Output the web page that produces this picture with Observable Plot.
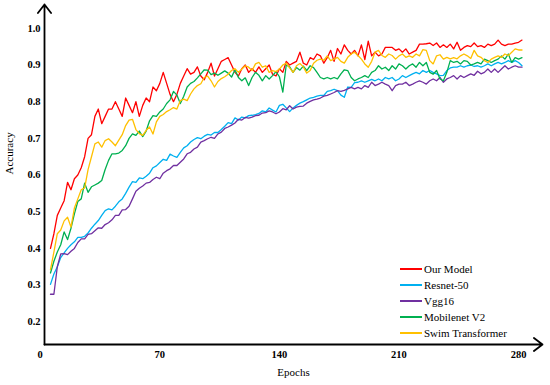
<!DOCTYPE html>
<html><head><meta charset="utf-8">
<script src="https://cdn.jsdelivr.net/npm/d3@7"></script>
<script src="https://cdn.jsdelivr.net/npm/@observablehq/plot@0.6"></script>
<style>
html,body{margin:0;padding:0;background:#fff;}
#wrap{position:relative;width:550px;height:385px;}
#legend{position:absolute;left:400px;top:261px;font:11px "Liberation Serif",serif;color:#000;}
.row{height:16px;display:flex;align-items:center;white-space:nowrap;}
.sw{display:inline-block;width:22px;height:2px;margin-right:2px;}
</style></head><body><div id="wrap"><div id="legend"></div></div>
<script>
const names = ["Our Model", "Resnet-50", "Vgg16", "Mobilenet V2", "Swim Transformer"];
const colors = ["#ff0000", "#00b0f0", "#7030a0", "#00b050", "#ffc000"];
const epochStart = 6, epochStep = 2;
const ourModel = [
0.40,0.44,0.49,0.51,0.53,0.58,0.56,0.59,0.60,0.62,
0.65,0.70,0.71,0.76,0.78,0.74,0.76,0.78,0.78,0.80,
0.78,0.76,0.81,0.79,0.77,0.80,0.76,0.79,0.81,0.80,
0.84,0.83,0.85,0.88,0.85,0.82,0.80,0.82,0.85,0.87,
0.89,0.875,0.88,0.895,0.87,0.86,0.88,0.905,0.87,0.89,
0.91,0.915,0.92,0.90,0.88,0.87,0.89,0.90,0.88,0.89,
0.88,0.895,0.88,0.89,0.90,0.875,0.87,0.89,0.88,0.91,
0.90,0.905,0.91,0.935,0.905,0.90,0.92,0.915,0.93,0.925,
0.905,0.92,0.94,0.91,0.945,0.93,0.955,0.94,0.93,0.94,
0.925,0.955,0.915,0.965,0.925,0.935,0.925,0.93,0.948,0.948,
0.948,0.94,0.944,0.935,0.944,0.93,0.935,0.94,0.957,0.957,
0.958,0.96,0.953,0.96,0.948,0.955,0.948,0.957,0.944,0.962,
0.94,0.948,0.953,0.95,0.96,0.95,0.953,0.948,0.957,0.953,
0.957,0.968,0.957,0.953,0.957,0.957,0.96,0.962,0.968];
const resnet50 = [
0.302,0.33,0.35,0.375,0.388,0.40,0.41,0.418,0.43,0.43,
0.433,0.442,0.455,0.466,0.476,0.49,0.503,0.508,0.505,0.515,
0.527,0.535,0.55,0.567,0.582,0.58,0.592,0.59,0.597,0.605,
0.62,0.625,0.634,0.643,0.64,0.657,0.652,0.648,0.662,0.674,
0.68,0.69,0.697,0.702,0.699,0.706,0.711,0.709,0.716,0.716,
0.724,0.733,0.743,0.74,0.756,0.75,0.758,0.756,0.762,0.763,
0.765,0.768,0.775,0.772,0.783,0.777,0.772,0.79,0.793,0.783,
0.773,0.783,0.79,0.796,0.80,0.805,0.81,0.812,0.815,0.817,
0.817,0.828,0.83,0.834,0.83,0.818,0.812,0.84,0.839,0.852,
0.853,0.857,0.853,0.857,0.861,0.857,0.862,0.857,0.866,0.862,
0.866,0.857,0.862,0.871,0.866,0.871,0.876,0.88,0.876,0.885,
0.88,0.885,0.88,0.876,0.871,0.872,0.885,0.892,0.894,0.894,
0.898,0.894,0.898,0.9,0.896,0.898,0.894,0.898,0.903,0.898,
0.903,0.907,0.903,0.907,0.912,0.907,0.912,0.907,0.898];
const vgg16 = [
0.275,0.275,0.35,0.385,0.386,0.383,0.392,0.40,0.416,0.426,
0.426,0.438,0.44,0.448,0.456,0.455,0.465,0.47,0.478,0.49,
0.49,0.505,0.506,0.515,0.535,0.556,0.564,0.57,0.578,0.58,
0.588,0.594,0.59,0.605,0.612,0.617,0.626,0.626,0.635,0.644,
0.658,0.662,0.671,0.676,0.69,0.694,0.699,0.703,0.70,0.712,
0.717,0.727,0.731,0.736,0.742,0.752,0.75,0.757,0.755,0.758,
0.762,0.763,0.769,0.77,0.775,0.772,0.767,0.772,0.781,0.778,
0.789,0.78,0.785,0.787,0.788,0.796,0.801,0.805,0.807,0.81,
0.815,0.817,0.821,0.825,0.83,0.828,0.831,0.835,0.839,0.835,
0.839,0.835,0.844,0.839,0.853,0.844,0.848,0.853,0.848,0.844,
0.83,0.844,0.848,0.848,0.853,0.844,0.848,0.853,0.857,0.853,
0.848,0.857,0.862,0.857,0.866,0.853,0.862,0.866,0.871,0.862,
0.871,0.866,0.871,0.876,0.872,0.883,0.876,0.88,0.889,0.88,
0.889,0.88,0.889,0.898,0.889,0.894,0.898,0.894,0.894];
const mobilenetV2 = [
0.333,0.365,0.39,0.41,0.445,0.424,0.455,0.494,0.528,0.535,
0.578,0.553,0.568,0.573,0.578,0.585,0.615,0.64,0.658,0.658,
0.66,0.667,0.68,0.70,0.712,0.708,0.72,0.705,0.72,0.748,
0.762,0.76,0.772,0.78,0.795,0.805,0.828,0.818,0.795,0.815,
0.84,0.85,0.855,0.865,0.876,0.887,0.886,0.874,0.878,0.872,
0.878,0.884,0.878,0.867,0.887,0.866,0.857,0.865,0.844,0.866,
0.88,0.872,0.857,0.871,0.862,0.871,0.882,0.868,0.826,0.90,
0.895,0.88,0.893,0.886,0.897,0.885,0.898,0.893,0.88,0.866,
0.862,0.866,0.862,0.866,0.862,0.876,0.887,0.885,0.866,0.857,
0.862,0.866,0.871,0.866,0.88,0.885,0.898,0.889,0.894,0.885,
0.898,0.889,0.903,0.898,0.889,0.898,0.903,0.894,0.907,0.898,
0.907,0.88,0.875,0.885,0.862,0.857,0.88,0.912,0.907,0.91,
0.903,0.912,0.91,0.9,0.903,0.907,0.903,0.916,0.912,0.907,
0.912,0.916,0.925,0.916,0.93,0.907,0.92,0.916,0.92];
const swimTransformer = [
0.342,0.39,0.44,0.45,0.475,0.485,0.458,0.51,0.535,0.56,
0.565,0.615,0.65,0.685,0.69,0.676,0.694,0.699,0.69,0.68,
0.695,0.71,0.735,0.75,0.752,0.724,0.713,0.708,0.722,0.731,
0.712,0.745,0.76,0.765,0.773,0.778,0.784,0.78,0.803,0.807,
0.803,0.821,0.835,0.844,0.849,0.866,0.87,0.857,0.84,0.855,
0.863,0.868,0.875,0.885,0.89,0.88,0.889,0.898,0.894,0.885,
0.903,0.907,0.894,0.898,0.88,0.885,0.882,0.889,0.90,0.905,
0.892,0.88,0.898,0.904,0.895,0.878,0.885,0.905,0.913,0.916,
0.913,0.925,0.912,0.916,0.921,0.91,0.905,0.921,0.93,0.935,
0.926,0.916,0.903,0.894,0.91,0.935,0.94,0.926,0.921,0.93,
0.926,0.916,0.925,0.93,0.921,0.925,0.921,0.93,0.925,0.942,
0.94,0.912,0.903,0.925,0.928,0.916,0.921,0.917,0.92,0.917,
0.925,0.93,0.925,0.918,0.94,0.925,0.921,0.912,0.907,0.916,
0.921,0.925,0.921,0.93,0.926,0.935,0.944,0.941,0.941];
const xTicks = [0, 70, 140, 210, 280];
const yTicks = [0.2, 0.3, 0.4, 0.5, 0.6, 0.7, 0.8, 0.9, 1.0];
const xDomain = [2.5, 294];
const yDomain = [0.138, 1.065];

const series = [ourModel, resnet50, vgg16, mobilenetV2, swimTransformer];
const data = series.flatMap((vals, k) => vals.map((v, i) => ({epoch: epochStart + epochStep * i, acc: v, model: names[k]})));
const font = '"Liberation Serif", "Times New Roman", serif';

const chart = Plot.plot({
  width: 550, height: 385,
  marginLeft: 44, marginRight: 8, marginTop: 4, marginBottom: 41,
  x: {domain: xDomain},
  y: {domain: yDomain},
  color: {domain: names, range: colors},
  style: {fontFamily: font, background: "#fff", color: "#000"},
  marks: [
    Plot.axisX({ticks: xTicks, tickSize: 0, tickPadding: 6, fontWeight: "bold", fontSize: 10.5, label: null}),
    Plot.axisY({ticks: yTicks, tickSize: 0, tickPadding: 4, fontWeight: "bold", fontSize: 10.5, tickFormat: d3.format(".1f"), label: null}),
    Plot.line(data, {x: "epoch", y: "acc", z: "model", stroke: "model", strokeWidth: 1.3}),
    Plot.arrow([0], {x1: xDomain[0], y1: yDomain[0], x2: xDomain[0], y2: yDomain[1], stroke: "#000", strokeWidth: 1.8, headLength: 9, headAngle: 75}),
    Plot.arrow([0], {x1: xDomain[0], y1: yDomain[0], x2: xDomain[1], y2: yDomain[0], stroke: "#000", strokeWidth: 1.8, headLength: 9, headAngle: 75}),
    Plot.text(["Accuracy"], {frameAnchor: "left", rotate: -90, dx: -35, fontSize: 11, fill: "#000"}),
    Plot.text(["Epochs"], {frameAnchor: "bottom", dy: 31, fontSize: 11, fill: "#000"})
  ]
});
const wrap = document.getElementById("wrap");
wrap.insertBefore(chart, wrap.firstChild);
const legend = document.getElementById("legend");
names.forEach((n, k) => {
  const row = document.createElement("div");
  row.className = "row";
  const sw = document.createElement("span");
  sw.className = "sw";
  sw.style.background = colors[k];
  const t = document.createElement("span");
  t.textContent = n;
  row.appendChild(sw); row.appendChild(t);
  legend.appendChild(row);
});
</script></body></html>
